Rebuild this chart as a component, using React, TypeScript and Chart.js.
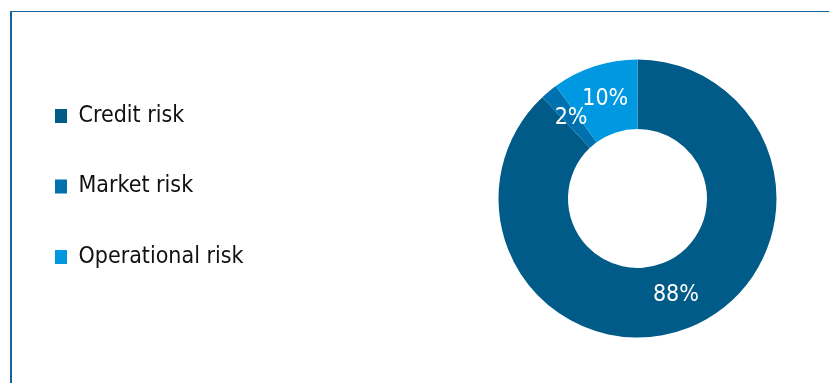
import React, { useEffect, useRef } from "react";
import { Chart, registerables } from "chart.js";

Chart.register(...registerables);

const categories = ["Credit risk", "Market risk", "Operational risk"];
const shares = [88, 2, 10];
const sliceColors = ["#005B88", "#0071AE", "#0099E1"];

const FONT_FAMILY = "'DejaVu Sans Condensed', 'DejaVu Sans', sans-serif";
const FRAME_COLOR = "#13629A";
const CANVAS_W = 1022;
const CANVAS_H = 383;

const sliceLabels = {
  id: "sliceLabels",
  afterDatasetsDraw(chart: any) {
    const ctx = chart.ctx;
    const meta = chart.getDatasetMeta(0);
    const data = chart.data.datasets[0].data as number[];
    const total = data.reduce((a, b) => a + b, 0);
    ctx.save();
    ctx.fillStyle = "#ffffff";
    ctx.font = `23px ${FONT_FAMILY}`;
    ctx.textAlign = "center";
    ctx.textBaseline = "middle";
    meta.data.forEach((arc: any, i: number) => {
      const p = arc.getCenterPoint();
      ctx.fillText(Math.round((data[i] / total) * 100) + "%", p.x, p.y);
    });
    ctx.restore();
  },
};

export default function App() {
  const canvasRef = useRef<HTMLCanvasElement | null>(null);

  useEffect(() => {
    if (!canvasRef.current) return;
    const chart = new Chart(canvasRef.current, {
      type: "doughnut",
      data: {
        labels: categories,
        datasets: [
          {
            data: shares,
            backgroundColor: sliceColors,
            borderWidth: 0,
            radius: 139,
            cutout: "50%",
          } as any,
        ],
      },
      options: {
        responsive: false,
        animation: false,
        devicePixelRatio: 1,
        layout: { padding: { left: 7.5, right: 0.5, top: 57, bottom: 43 } },
        plugins: {
          legend: {
            position: "left",
            align: "start",
            labels: {
              boxWidth: 12,
              boxHeight: 14,
              padding: 47.5,
              color: "#111111",
              font: { family: FONT_FAMILY, size: 23 },
            },
          },
          tooltip: { enabled: false },
        },
      } as any,
      plugins: [sliceLabels],
    });
    return () => chart.destroy();
  }, []);

  return (
    <div
      style={{
        position: "fixed",
        left: 0,
        top: 0,
        width: 829,
        height: 383,
        overflow: "hidden",
      }}
    >
      <canvas
        ref={canvasRef}
        width={CANVAS_W}
        height={CANVAS_H}
        style={{ position: "absolute", left: 0, top: 0, width: CANVAS_W, height: CANVAS_H }}
      />
      <div
        style={{
          position: "absolute",
          left: 10,
          top: 11,
          right: 0,
          bottom: 0,
          borderTop: `1px solid ${FRAME_COLOR}`,
          borderLeft: `2px solid ${FRAME_COLOR}`,
          pointerEvents: "none",
          zIndex: 1,
        }}
      />
    </div>
  );
}
